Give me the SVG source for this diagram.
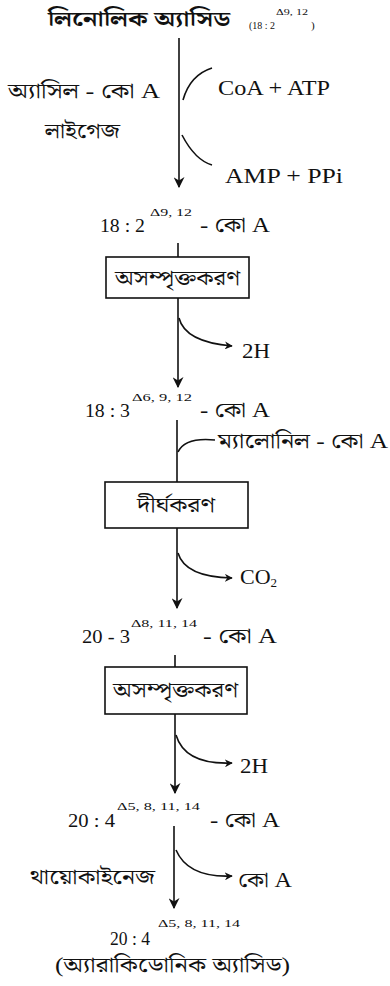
<svg xmlns="http://www.w3.org/2000/svg" width="390" height="986" viewBox="0 0 390 986">
<defs>
<style>
text{font-family:"Liberation Serif","Noto Serif Bengali","Noto Sans Bengali","Lohit Bengali",serif;fill:#111}
.t{font-size:20px}
.l{font-size:22px}
.n{font-size:18px}
.s{font-size:11px}
.ln{stroke:#111;stroke-width:1.6;fill:none}
.box{stroke:#111;stroke-width:1.6;fill:#fff}
</style>
<marker id="ah" viewBox="0 0 10 10" refX="9" refY="5" markerWidth="8" markerHeight="8" orient="auto" markerUnits="userSpaceOnUse">
<path d="M0,0 L10,5 L0,10 L3,5 z" fill="#111"/>
</marker>
<marker id="ahd" viewBox="0 0 10 10" refX="9" refY="5" markerWidth="11" markerHeight="11" orient="auto" markerUnits="userSpaceOnUse">
<path d="M0,0 L10,5 L0,10 L3,5 z" fill="#111"/>
</marker>
</defs>
<rect width="390" height="986" fill="#fff"/>
<g id="connectors">
<path class="ln" d="M179,38 V187" marker-end="url(#ahd)"/>
<path class="ln" d="M183,100 Q190,75 212,68"/>
<path class="ln" d="M182,135 Q195,160 212,165"/>
<path class="ln" d="M178,243 V257"/>
<path class="ln" d="M178,298 V387" marker-end="url(#ahd)"/>
<path class="ln" d="M179,318 Q185,342 232,346" marker-end="url(#ah)"/>
<path class="ln" d="M177,420 V482"/>
<path class="ln" d="M178,452 Q185,437 215,440"/>
<path class="ln" d="M177,528 V608" marker-end="url(#ahd)"/>
<path class="ln" d="M178,553 Q185,577 232,578" marker-end="url(#ah)"/>
<path class="ln" d="M175,655 V667"/>
<path class="ln" d="M175,714 V793" marker-end="url(#ahd)"/>
<path class="ln" d="M176,735 Q185,765 232,763" marker-end="url(#ah)"/>
<path class="ln" d="M174,826 V908" marker-end="url(#ahd)"/>
<path class="ln" d="M176,850 Q188,878 232,876" marker-end="url(#ah)"/>
</g>
<g id="n-linoleic">
<text class="t" x="48" y="26" font-weight="bold" textLength="182" lengthAdjust="spacingAndGlyphs">লিনোলিক অ্যাসিড</text>
<text class="s" x="249" y="29" textLength="26" lengthAdjust="spacingAndGlyphs">(18 : 2</text>
<text x="276" y="15" font-size="9" textLength="32" lengthAdjust="spacingAndGlyphs">Δ9, 12</text>
<text class="s" x="311" y="29">)</text>
</g>
<g id="n-enzyme1">
<text class="t" x="8" y="98" textLength="152" lengthAdjust="spacingAndGlyphs">অ্যাসিল - কো A</text>
<text class="t" x="45" y="138" textLength="75" lengthAdjust="spacingAndGlyphs">লাইগেজ</text>
</g>
<g id="n-coa-atp"><text class="l" x="218" y="95" textLength="112" lengthAdjust="spacingAndGlyphs">CoA + ATP</text></g>
<g id="n-amp"><text class="l" x="225" y="183" textLength="118" lengthAdjust="spacingAndGlyphs">AMP + PPi</text></g>
<g id="n-182coa">
<text class="n" x="100" y="232" textLength="45" lengthAdjust="spacingAndGlyphs">18 : 2</text>
<text class="s" x="150" y="216" textLength="42" lengthAdjust="spacingAndGlyphs">Δ9, 12</text>
<text class="t" x="200" y="232" textLength="70" lengthAdjust="spacingAndGlyphs">- কো A</text>
</g>
<g id="n-desat1">
<rect class="box" x="106" y="257" width="143" height="41"/>
<text class="t" x="115" y="285" textLength="125" lengthAdjust="spacingAndGlyphs">অসম্পৃক্তকরণ</text>
</g>
<g id="n-2h1"><text class="l" x="242" y="358" textLength="28" lengthAdjust="spacingAndGlyphs">2H</text></g>
<g id="n-183coa">
<text class="n" x="85" y="417" textLength="45" lengthAdjust="spacingAndGlyphs">18 : 3</text>
<text class="s" x="132" y="401" textLength="60" lengthAdjust="spacingAndGlyphs">Δ6, 9, 12</text>
<text class="t" x="200" y="417" textLength="70" lengthAdjust="spacingAndGlyphs">- কো A</text>
</g>
<g id="n-malonyl"><text class="t" x="218" y="448" textLength="170" lengthAdjust="spacingAndGlyphs">ম্যালোনিল - কো A</text></g>
<g id="n-elong">
<rect class="box" x="105" y="482" width="143" height="46"/>
<text class="t" x="137" y="512" textLength="78" lengthAdjust="spacingAndGlyphs">দীর্ঘকরণ</text>
</g>
<g id="n-co2"><text class="l" x="240" y="584">CO<tspan font-size="13" dy="3">2</tspan></text></g>
<g id="n-203coa">
<text class="n" x="82" y="643" textLength="48" lengthAdjust="spacingAndGlyphs">20 - 3</text>
<text class="s" x="131" y="627" textLength="66" lengthAdjust="spacingAndGlyphs">Δ8, 11, 14</text>
<text class="t" x="203" y="643" textLength="74" lengthAdjust="spacingAndGlyphs">- কো A</text>
</g>
<g id="n-desat2">
<rect class="box" x="105" y="667" width="142" height="47"/>
<text class="t" x="113" y="697" textLength="125" lengthAdjust="spacingAndGlyphs">অসম্পৃক্তকরণ</text>
</g>
<g id="n-2h2"><text class="l" x="240" y="773" textLength="28" lengthAdjust="spacingAndGlyphs">2H</text></g>
<g id="n-204coa">
<text class="n" x="68" y="827" textLength="47" lengthAdjust="spacingAndGlyphs">20 : 4</text>
<text class="s" x="117" y="810" textLength="83" lengthAdjust="spacingAndGlyphs">Δ5, 8, 11, 14</text>
<text class="t" x="210" y="827" textLength="70" lengthAdjust="spacingAndGlyphs">- কো A</text>
</g>
<g id="n-thiokinase"><text class="t" x="30" y="884" textLength="125" lengthAdjust="spacingAndGlyphs">থায়োকাইনেজ</text></g>
<g id="n-coa2"><text class="t" x="238" y="887" textLength="54" lengthAdjust="spacingAndGlyphs">কো A</text></g>
<g id="n-arachidonic">
<text class="n" x="110" y="945" textLength="40" lengthAdjust="spacingAndGlyphs">20 : 4</text>
<text class="s" x="158" y="927" textLength="82" lengthAdjust="spacingAndGlyphs">Δ5, 8, 11, 14</text>
<text class="t" x="55" y="972" textLength="235" lengthAdjust="spacingAndGlyphs">(অ্যারাকিডোনিক অ্যাসিড)</text>
</g>
</svg>
